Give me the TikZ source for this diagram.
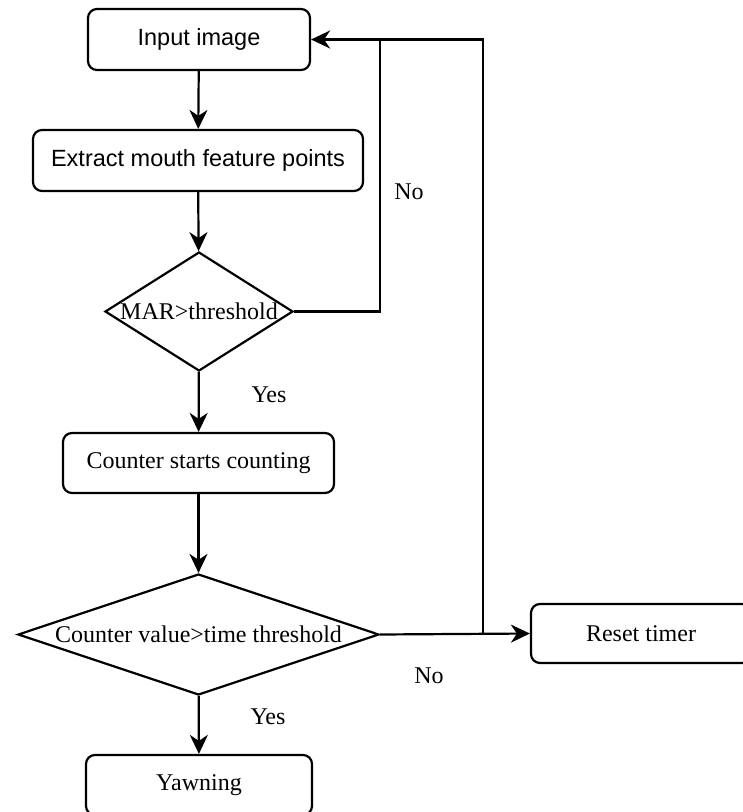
\documentclass[tikz,border=0pt]{standalone}
\usepackage{fontspec}
\setmainfont{Liberation Serif}
\newfontfamily\sansf{Liberation Sans}
\usetikzlibrary{shapes.geometric,arrows.meta}
\begin{document}
\begin{tikzpicture}[x=1pt,y=-1pt,
  txt/.style={font=\fontsize{24}{28}\selectfont},
  box/.style={draw, rounded corners=9pt, line width=2.2pt, inner sep=0pt, txt},
  sbox/.style={box, font=\sansf\fontsize{23.5}{28}\selectfont},
  dia/.style={draw, diamond, line width=2.2pt, inner sep=0pt},
  arr/.style={line width=2.2pt, -{Stealth[length=19pt,width=18pt,inset=6pt]}},
  ln/.style={line width=2.2pt},
  lbl/.style={txt, inner sep=0pt}]
\useasboundingbox (0,0) rectangle (743,812);
\clip (0,0) rectangle (743,812);

\node[sbox, minimum width=222pt, minimum height=61pt] (in) at (199,39.5) {Input image};
\node[sbox, minimum width=330pt, minimum height=61pt] (ext) at (198,160.5) {Extract mouth feature points};
\node[dia, minimum width=188pt, minimum height=119pt,
      label={[txt, inner sep=0pt]center:MAR>threshold}] (d1) at (199,311.5) {};
\node[box, minimum width=271pt, minimum height=60pt] (cnt) at (198.5,463) {Counter starts counting};
\node[dia, minimum width=361pt, minimum height=121pt,
      label={[txt, inner sep=0pt]center:Counter value>time threshold}] (d2) at (198.5,634.5) {};
\node[box, minimum width=220pt, minimum height=59pt] (rst) at (641,633.5) {Reset timer};
\node[box, minimum width=226pt, minimum height=60pt] (yaw) at (199,785) {Yawning};

\node[lbl] (no1) at (409,192) {No};
\node[lbl] (yes1) at (269,395) {Yes};
\node[lbl] (no2) at (429,676) {No};
\node[lbl] (yes2) at (268,717) {Yes};

\coordinate (k1) at (380,39.5);
\coordinate (j1) at (483,634.5);

\draw[arr] (in) -- (ext);
\draw[arr] (ext) -- (d1);
\draw[arr] (d1) -- (cnt);
\draw[arr] (cnt) -- (d2);
\draw[arr] (d2) -- (yaw);
\draw[arr] (d2.east) -- (rst.west);
\draw[ln] (d1.east) -| (k1);
\draw[arr] (j1) |- (in.east);
\end{tikzpicture}
\end{document}
